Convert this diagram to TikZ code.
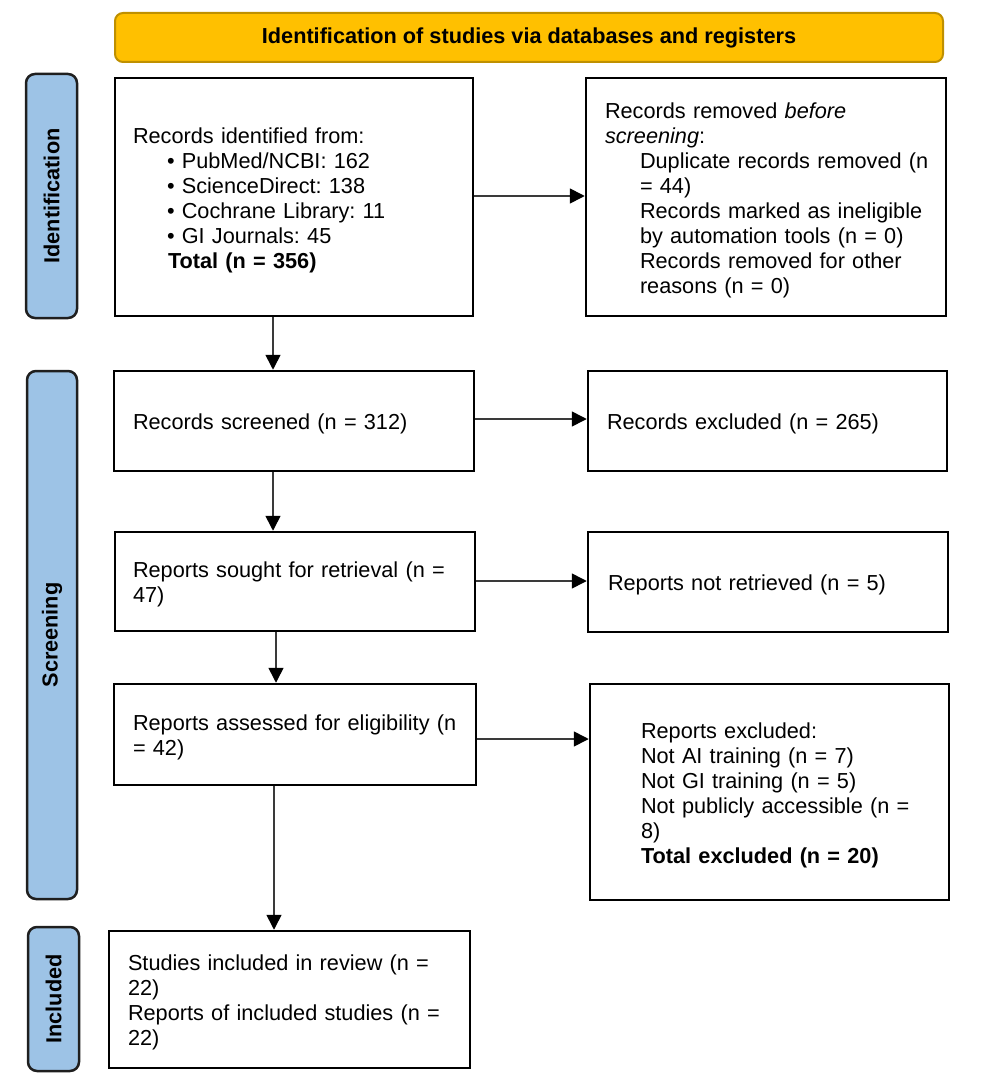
\documentclass[tikz,border=0pt]{standalone}
\usepackage{fontspec}
\setmainfont{Liberation Sans}
\usetikzlibrary{arrows.meta}
\frenchspacing
\definecolor{gold}{HTML}{FFC000}
\definecolor{goldline}{HTML}{BF9000}
\definecolor{sideblue}{HTML}{9DC3E6}
\definecolor{arrowgray}{HTML}{3A3A3A}
\newcommand\Lz[1]{\mbox{#1}}
\tikzset{
  box/.style={draw=black, line width=2.5pt, fill=white, align=left, inner ysep=2pt,
    font=\fontsize{21.7}{25}\selectfont\frenchspacing,
    execute at begin node={\rule{0pt}{22pt}}},
  sidebar/.style={draw=black!88, line width=2.5pt, fill=sideblue, rounded corners=9pt,
    rotate=90, inner sep=0pt, font=\bfseries\fontsize{21.7}{25}\selectfont},
  hdr/.style={draw=goldline, line width=2pt, fill=gold, rounded corners=8pt,
    inner sep=0pt, font=\bfseries\fontsize{21.7}{25}\selectfont},
  arr/.style={draw=arrowgray, line width=1.6pt, -{Triangle[length=15pt,width=15pt,color=black]}}
}
\begin{document}
\begin{tikzpicture}[x=1pt,y=-1pt]
\useasboundingbox (0,0) rectangle (986,1091);

\node[hdr, minimum width=828pt, minimum height=49pt] (title) at (529,37.5)
  {Identification of studies via databases and registers};

\node[sidebar, minimum width=244pt, minimum height=51pt] (sideid) at (51.5,196) {Identification};
\node[sidebar, minimum width=528pt, minimum height=50pt] (sidescr) at (52,635) {Screening};
\node[sidebar, minimum width=144pt, minimum height=51pt] (sideinc) at (53.5,999) {Included};

\node[box, minimum width=358pt, minimum height=238pt, inner xsep=18pt, text width=322pt] (ident) at (294,197)
  {\Lz{Records identified from:}\\
   \Lz{\hspace*{34pt}• PubMed/NCBI: 162}\\
   \Lz{\hspace*{34pt}• ScienceDirect: 138}\\
   \Lz{\hspace*{34pt}• Cochrane Library: 11}\\
   \Lz{\hspace*{34pt}• GI Journals: 45}\\
   \Lz{\hspace*{35pt}\textbf{Total (n = 356)}}};

\node[box, minimum width=360pt, minimum height=238pt, inner xsep=19pt, text width=322pt] (removed) at (766,197)
  {\Lz{Records removed \textit{before}}\\
   \Lz{\textit{screening}:}\\
   \Lz{\hspace*{35pt}Duplicate records removed (n}\\
   \Lz{\hspace*{35pt}= 44)}\\
   \Lz{\hspace*{35pt}Records marked as ineligible}\\
   \Lz{\hspace*{35pt}by automation tools (n = 0)}\\
   \Lz{\hspace*{35pt}Records removed for other}\\
   \Lz{\hspace*{35pt}reasons (n = 0)}};

\node[box, minimum width=360pt, minimum height=100pt, inner xsep=19pt, text width=322pt] (screened) at (294,421)
  {\Lz{Records screened (n = 312)}};

\node[box, minimum width=359pt, minimum height=100pt, inner xsep=19pt, text width=321pt] (excluded) at (767.5,421)
  {\Lz{Records excluded (n = 265)}};

\node[box, minimum width=360pt, minimum height=99pt, inner xsep=18pt, text width=324pt] (sought) at (295,581.5)
  {\Lz{Reports sought for retrieval (n =}\\
   \Lz{47)}};

\node[box, minimum width=360pt, minimum height=100pt, inner xsep=20pt, text width=320pt] (notret) at (768,582)
  {\Lz{Reports not retrieved (n = 5)}};

\node[box, minimum width=362pt, minimum height=101pt, inner xsep=19pt, text width=324pt] (assessed) at (295,734.5)
  {\Lz{Reports assessed for eligibility (n}\\
   \Lz{= 42)}};

\node[box, minimum width=359pt, minimum height=216pt, inner xsep=51pt, text width=257pt] (repexcl) at (769.5,792)
  {\Lz{Reports excluded:}\\
   \Lz{Not AI training (n = 7)}\\
   \Lz{Not GI training (n = 5)}\\
   \Lz{Not publicly accessible (n =}\\
   \Lz{8)}\\
   \Lz{\textbf{Total excluded (n = 20)}}};

\node[box, minimum width=361pt, minimum height=137pt, inner xsep=19pt, text width=323pt] (included) at (289.5,999.5)
  {\Lz{Studies included in review (n =}\\
   \Lz{22)}\\
   \Lz{Reports of included studies (n =}\\
   \Lz{22)}};

\draw[arr] (ident.east |- 0,196) -- (removed.west |- 0,196);
\draw[arr] (ident.south -| 273,0) -- (screened.north -| 273,0);
\draw[arr] (screened.east |- 0,419) -- (excluded.west |- 0,419);
\draw[arr] (screened.south -| 273,0) -- (sought.north -| 273,0);
\draw[arr] (sought.east |- 0,581) -- (notret.west |- 0,581);
\draw[arr] (sought.south -| 276,0) -- (assessed.north -| 276,0);
\draw[arr] (assessed.east |- 0,739) -- (repexcl.west |- 0,739);
\draw[arr] (assessed.south -| 274,0) -- (included.north -| 274,0);
\end{tikzpicture}
\end{document}
